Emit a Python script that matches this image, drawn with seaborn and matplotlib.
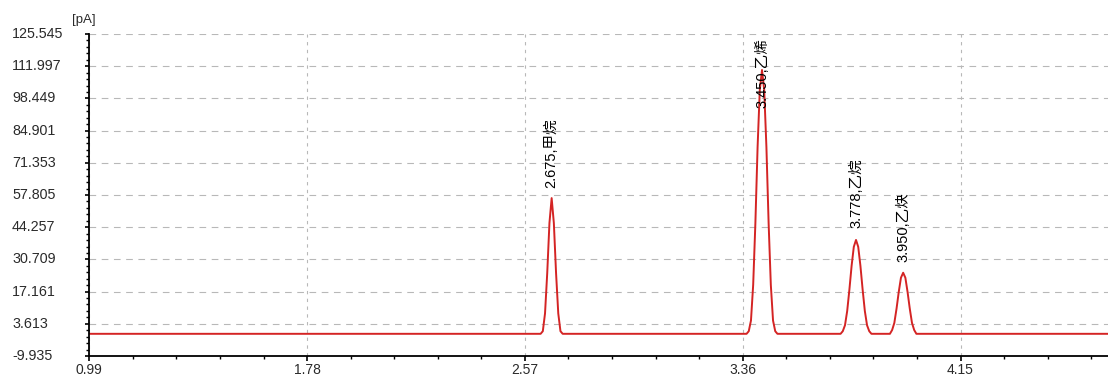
import numpy as np
import pandas as pd
import matplotlib
matplotlib.use("Agg")
import matplotlib.pyplot as plt
import seaborn as sns
from matplotlib.ticker import FixedLocator

# ---------------- data ----------------
baseline = -0.6
x_start, x_end = 0.99, 4.685

methane_t = [2.627, 2.635, 2.643, 2.651, 2.659, 2.667, 2.675, 2.683, 2.691, 2.699, 2.707]
methane_s = [-0.6, 0.5, 8, 25, 46, 56.5, 46, 25, 8, 0.5, -0.6]

ethylene_t = [3.374, 3.382, 3.390, 3.398, 3.406, 3.414, 3.422, 3.430,
              3.438, 3.446, 3.454, 3.462, 3.470, 3.478, 3.486]
ethylene_s = [-0.6, 0.5, 5, 20, 46, 78, 102, 110.4, 102, 78, 46, 20, 5, 0.5, -0.6]

ethane_t = [3.715, 3.723, 3.731, 3.739, 3.747, 3.755, 3.763, 3.771,
            3.779, 3.787, 3.795, 3.803, 3.811, 3.819, 3.827]
ethane_s = [-0.6, 0.5, 3, 9, 18, 28, 36, 38.9, 36, 28, 18, 9, 3, 0.5, -0.6]

acetylene_t = [3.894, 3.902, 3.910, 3.918, 3.926, 3.934, 3.942,
               3.950, 3.958, 3.966, 3.974, 3.982, 3.990]
acetylene_s = [-0.6, 1, 4, 10, 17, 23, 25.1, 23, 17, 10, 4, 1, -0.6]

peak_labels = ["2.675,甲烷", "3.450,乙烯", "3.778,乙烷", "3.950,乙炔"]
peak_apex_t = [2.667, 3.430, 3.771, 3.942]
peak_apex_s = [56.5, 110.4, 38.9, 25.1]

y_ticks = [-9.935, 3.613, 17.161, 30.709, 44.257, 57.805, 71.353, 84.901, 98.449, 111.997, 125.545]
y_tick_labels = ["-9.935", "3.613", "17.161", "30.709", "44.257", "57.805",
                 "71.353", "84.901", "98.449", "111.997", "125.545"]
x_ticks = [0.99, 1.78, 2.57, 3.36, 4.15]
x_tick_labels = ["0.99", "1.78", "2.57", "3.36", "4.15"]
unit_label = "[pA]"

# ---------------- build series ----------------
t = [x_start] + methane_t + ethylene_t + ethane_t + acetylene_t + [x_end]
s = [baseline] + methane_s + ethylene_s + ethane_s + acetylene_s + [baseline]
df = pd.DataFrame({"time": t, "signal": s})

# ---------------- plot ----------------
sns.set_theme(style="white")
plt.rcParams['font.family'] = ['Liberation Sans', 'Noto Sans CJK SC', 'DejaVu Sans']

DPI = 100
fig = plt.figure(figsize=(11.08, 3.76), dpi=DPI)
ax_left_px = 89.3
ax = fig.add_axes([ax_left_px / 1108, 1 - 356 / 376, 1 - ax_left_px / 1108, (356 - 34) / 376])

sns.lineplot(data=df, x="time", y="signal", ax=ax, color="#d42424",
             linewidth=1.4, sort=False, estimator=None)

ax.set_xlim(x_start, x_end)
ax.set_ylim(y_ticks[0], y_ticks[-1])

ax.yaxis.set_major_locator(FixedLocator(y_ticks))
ax.set_yticklabels(y_tick_labels)
ax.xaxis.set_major_locator(FixedLocator(x_ticks))
ax.set_xticklabels(x_tick_labels)
x_step = x_ticks[1] - x_ticks[0]
y_step = y_ticks[1] - y_ticks[0]
ax.xaxis.set_minor_locator(FixedLocator([x_start + x_step / 5 * k for k in range(0, 25)]))
ax.yaxis.set_minor_locator(FixedLocator([y_ticks[0] + y_step / 5 * k for k in range(0, 51)]))

maj_len, min_len = 3.2, 2.2
# y labels left-aligned starting ~12 px from figure edge
label_start_px = 12
y_pad = (ax_left_px - label_start_px) * 72 / DPI - maj_len
ax.tick_params(axis="y", which="major", direction="out", length=maj_len, width=1.2,
               color="black", labelsize=10.3, labelcolor="#2a2a2a", pad=y_pad, left=True)
ax.tick_params(axis="x", which="major", direction="out", length=maj_len + 0.6, width=1.2,
               color="black", labelsize=10, labelcolor="#2a2a2a", pad=1.2, bottom=True)
ax.tick_params(axis="both", which="minor", direction="out", length=min_len, width=1.0,
               color="black", left=True, bottom=True)
for lab in ax.get_yticklabels():
    lab.set_horizontalalignment("left")
    lab.set_verticalalignment("center")

ax.set_xlabel("")
ax.set_ylabel("")

for side in ["top", "right"]:
    ax.spines[side].set_visible(False)
for side in ["left", "bottom"]:
    ax.spines[side].set_color("black")
    ax.spines[side].set_linewidth(1.3)

ax.grid(True, axis="y", which="major", color="#b8b8b8", linestyle=(0, (6, 5)), linewidth=0.8)
ax.grid(True, axis="x", which="major", color="#b8b8b8", linestyle=(0, (3, 4)), linewidth=0.8)
ax.set_axisbelow(True)

offsets_px = [10, -38, 12, 11]
for lbl, xt, ys, off in zip(peak_labels, peak_apex_t, peak_apex_s, offsets_px):
    ax.annotate(lbl, xy=(xt, ys), xytext=(0, off), textcoords="offset pixels",
                rotation=90, ha="center", va="bottom", fontsize=10.5, color="black",
                family=['Liberation Sans', 'Noto Sans CJK SC'])

fig.text(72 / 1108, 1 - 20 / 376, unit_label, fontsize=9.5, color="#2a2a2a",
         ha="left", va="center")

fig.savefig("out.png", dpi=DPI)
